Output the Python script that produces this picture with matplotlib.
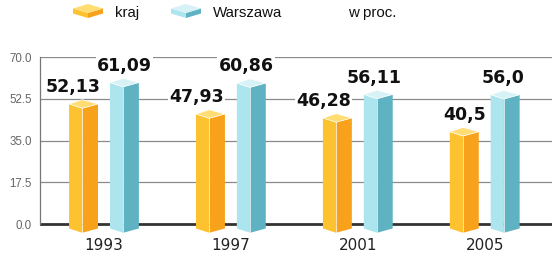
import matplotlib
matplotlib.use("Agg")
import matplotlib.pyplot as plt
from matplotlib.patches import Polygon

years = ["1993", "1997", "2001", "2005"]
kraj = [52.13, 47.93, 46.28, 40.5]
warszawa = [61.09, 60.86, 56.11, 56.0]
kraj_labels = ["52,13", "47,93", "46,28", "40,5"]
warszawa_labels = ["61,09", "60,86", "56,11", "56,0"]
yticks = [0.0, 17.5, 35.0, 52.5, 70.0]
legend_names = ["kraj", "Warszawa"]
unit_text = "w proc."

# styles
kraj_cols = ("#FDC230", "#F8A11B", "#FFDD73")   # left face, right face, top
wars_cols = ("#ADE5EE", "#5EB2C1", "#D7F2F6")
kraj_dx = [-0.08, -0.11, -0.11, 0.0]
wars_dx = [0.0, -0.04, -0.03, -0.02]

fig = plt.figure(figsize=(5.56, 2.64), dpi=100)
ax = fig.add_axes([40 / 556, 1 - 233.5 / 264, 512 / 556, (233.5 - 57) / 264])
ax.set_xlim(-0.504, 3.53)
ax.set_ylim(-3.9, 70)

bw = 0.228
off = 0.161
d = 1.8


def prism(ax, xc, v, w, cols, depth, base=0.0, z=3):
    xl, xr = xc - w / 2, xc + w / 2
    xm = xc - 0.01
    left = Polygon([(xl, v - depth), (xm, v - 2 * depth), (xm, base - 2 * depth), (xl, base - depth)],
                   closed=True, facecolor=cols[0], edgecolor="none", zorder=z)
    right = Polygon([(xm, v - 2 * depth), (xr, v - depth), (xr, base - depth), (xm, base - 2 * depth)],
                    closed=True, facecolor=cols[1], edgecolor="none", zorder=z)
    top = Polygon([(xm, v), (xl, v - depth), (xm, v - 2 * depth), (xr, v - depth)],
                  closed=True, facecolor=cols[2], edgecolor="white", linewidth=0.5, zorder=z + 0.1)
    for p in (left, right, top):
        ax.add_patch(p)
    ax.plot([xm, xm], [base - 2 * depth, v - 2 * depth], color="white", lw=0.6, alpha=0.8, zorder=z + 0.2)


for i, y in enumerate(years):
    prism(ax, i - off, kraj[i], bw, kraj_cols, d)
    prism(ax, i + off, warszawa[i], bw, wars_cols, d)
    ax.text(i - off + kraj_dx[i], kraj[i] + 3.1, kraj_labels[i], ha="center", va="baseline",
            fontsize=12.5, fontweight="bold", color="#111111", family="DejaVu Sans", zorder=5,
            bbox=dict(facecolor="white", edgecolor="none", pad=1.0))
    ax.text(i + off + wars_dx[i], warszawa[i] + 3.1, warszawa_labels[i], ha="center", va="baseline",
            fontsize=12.5, fontweight="bold", color="#111111", family="DejaVu Sans", zorder=5,
            bbox=dict(facecolor="white", edgecolor="none", pad=1.0))

for t in yticks:
    if t == 0:
        ax.axhline(t, color="#333333", lw=2.0, zorder=1)
    else:
        ax.axhline(t, color="#8a8a8a", lw=0.9, zorder=1)

for s in ["top", "right", "bottom"]:
    ax.spines[s].set_visible(False)
ax.spines["left"].set_bounds(0, 70)
ax.spines["left"].set_color("#777777")
ax.spines["left"].set_linewidth(0.9)

ax.set_yticks(yticks)
ax.set_yticklabels([f"{t:.1f}" for t in yticks], family="Liberation Sans", fontsize=8.3, color="#666666")
ax.tick_params(axis="y", length=0, pad=6)
ax.set_xticks(range(len(years)))
ax.set_xticklabels(years, family="DejaVu Sans", fontsize=11, color="#222222")
ax.tick_params(axis="x", length=0, pad=3)

# legend overlay
lax = fig.add_axes([0, 0, 1, 1], zorder=10)
lax.set_xlim(0, 556)
lax.set_ylim(264, 0)
lax.axis("off")


def flat_icon(x0, w, cols):
    xm = x0 + w / 2
    top = [(xm, 4), (x0, 8.5), (xm, 13), (x0 + w, 8.5)]
    left = [(x0, 8.5), (xm, 13), (xm, 18), (x0, 13.5)]
    right = [(xm, 13), (x0 + w, 8.5), (x0 + w, 13.5), (xm, 18)]
    lax.add_patch(Polygon(left, closed=True, facecolor=cols[0], edgecolor="none"))
    lax.add_patch(Polygon(right, closed=True, facecolor=cols[1], edgecolor="none"))
    lax.add_patch(Polygon(top, closed=True, facecolor=cols[2], edgecolor="none"))


flat_icon(73, 30, kraj_cols)
flat_icon(171, 30, wars_cols)
lax.text(115, 17, legend_names[0], family="Liberation Sans", fontsize=10.8, color="#111111", va="baseline")
lax.text(213, 17, legend_names[1], family="Liberation Sans", fontsize=10.8, color="#111111", va="baseline")
lax.text(348, 17, unit_text, family="Liberation Sans", fontsize=10.8, color="#111111", va="baseline")

fig.savefig("out.png", dpi=100, facecolor="white")
